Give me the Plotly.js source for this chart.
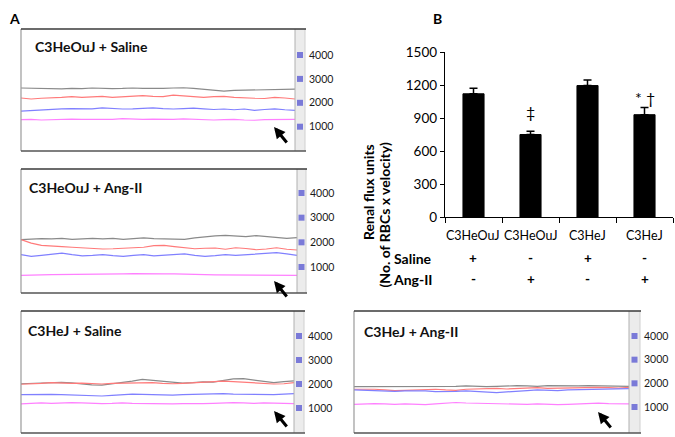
<!DOCTYPE html>
<html><head><meta charset="utf-8">
<script src="https://cdn.plot.ly/plotly-3.0.1.min.js"></script>
<style>html,body{margin:0;padding:0;background:#fff}#chart{width:675px;height:437px}</style>
</head><body><div id="chart"></div>
<script>
// ---------- DATA ----------
// Panel A1: C3HeOuJ + Saline
const a1Gray = [2620,2610,2590,2590,2580,2600,2590,2620,2600,2590,2600,2620,2600,2590,2600,2620,2630,2600,2570,2510,2490,2520,2530,2550,2530,2550,2570,2570];
const a1Red  = [2200,2160,2190,2200,2230,2260,2230,2250,2270,2230,2260,2290,2300,2270,2260,2320,2290,2250,2230,2260,2270,2230,2200,2190,2180,2230,2200,2160];
const a1Blue = [1650,1680,1710,1740,1750,1760,1740,1750,1790,1760,1740,1750,1780,1790,1760,1740,1760,1780,1750,1720,1740,1710,1740,1680,1720,1750,1710,1680];
const a1Pink = [1300,1310,1280,1300,1310,1320,1310,1300,1320,1310,1340,1320,1310,1320,1300,1310,1330,1310,1300,1280,1300,1310,1280,1270,1300,1310,1300,1310];
// Panel A2: C3HeOuJ + Ang-II
const a2Gray = [2110,2140,2150,2140,2160,2120,2150,2160,2140,2160,2120,2150,2180,2150,2140,2160,2120,2180,2230,2260,2280,2260,2230,2270,2230,2180,2160,2190];
const a2Red  = [2110,1970,1880,1840,1830,1800,1770,1760,1730,1740,1770,1790,1800,1870,1880,1830,1770,1740,1760,1770,1720,1780,1750,1700,1730,1780,1720,1690];
const a2Blue = [1500,1430,1470,1530,1560,1500,1450,1470,1500,1460,1430,1470,1500,1450,1470,1500,1530,1470,1430,1460,1500,1470,1500,1540,1570,1580,1530,1470];
const a2Pink = [660,680,680,690,690,700,690,700,720,700,720,730,720,700,720,720,700,690,690,680,680,690,680,660,680,690,680,660];
// Panel A3: C3HeJ + Saline
const a3Gray = [2010,2030,2040,2060,2070,2050,2000,1960,1950,2000,2060,2120,2190,2150,2090,2060,2040,2060,2090,2080,2150,2210,2220,2160,2100,2060,2100,2130];
const a3Red  = [1990,2000,2030,2060,2040,2030,2040,2010,2000,2030,2040,2060,2070,2060,2030,2010,2030,2060,2080,2110,2120,2100,2070,2040,2010,2000,2010,2060];
const a3Blue = [1560,1570,1560,1570,1560,1540,1530,1510,1500,1530,1560,1580,1570,1560,1530,1540,1560,1570,1580,1610,1600,1580,1570,1560,1540,1560,1580,1600];
const a3Pink = [1170,1190,1210,1190,1210,1220,1210,1190,1180,1190,1210,1190,1180,1170,1150,1170,1180,1170,1180,1190,1210,1220,1210,1190,1210,1190,1180,1180];
// Panel A4: C3HeJ + Ang-II
const a4Gray = [1860,1860,1870,1860,1850,1860,1870,1860,1850,1860,1870,1890,1870,1860,1870,1890,1900,1890,1870,1900,1890,1870,1890,1900,1900,1890,1870,1870];
const a4Red  = [1750,1760,1750,1720,1690,1700,1720,1730,1750,1720,1700,1750,1760,1780,1790,1760,1790,1800,1820,1790,1800,1820,1800,1820,1830,1820,1800,1830];
const a4Blue = [1720,1700,1690,1680,1660,1680,1690,1680,1650,1640,1660,1680,1650,1620,1610,1640,1680,1690,1720,1700,1690,1720,1730,1750,1760,1750,1760,1780];
const a4Pink = [1110,1130,1140,1130,1110,1130,1110,1100,1130,1160,1190,1170,1160,1140,1130,1110,1100,1110,1130,1110,1100,1110,1130,1140,1160,1140,1140,1130];
const traceTicks = [1000, 2000, 3000, 4000];
const panelTitles = ['C3HeOuJ + Saline', 'C3HeOuJ + Ang-II', 'C3HeJ + Saline', 'C3HeJ + Ang-II'];

// Panel B
const strains = ['C3HeOuJ', 'C3HeOuJ', 'C3HeJ', 'C3HeJ'];
const fluxMean = [1120, 750, 1195, 930];
const fluxErr = [50, 30, 50, 65];
const salineSigns = ['+', '-', '+', '-'];
const angSigns = ['-', '+', '-', '+'];
const sigMarks = ['', '‡', '', '* †'];
const sigLevel = [0, 960, 0, 1090];
const fluxTicks = [0, 300, 600, 900, 1200, 1500];

// ---------- LAYOUT ----------
const W = 675, H = 437;
const fx = p => p / W, fy = p => 1 - p / H;
const FONT = 'Lato, "Open Sans", sans-serif';

const series = [
  [a1Gray, a1Red, a1Blue, a1Pink],
  [a2Gray, a2Red, a2Blue, a2Pink],
  [a3Gray, a3Red, a3Blue, a3Pink],
  [a4Gray, a4Red, a4Blue, a4Pink]
];
const lineColors = ['#8a8a8a', '#ff7a7a', '#8080ff', '#ff80ff'];
// geometry (pixels): left, plot right, strip right, top, bottom, y of 1000 tick, y of 4000 tick
const geo = [
  {L:21, R:295, S:305, T:29, B:151, p1:126.7, p4:55, tx:33, ty:47, ar:[274,127]},
  {L:21, R:297, S:306, T:169, B:293, p1:267, p4:193, tx:27, ty:188, ar:[274,281]},
  {L:21, R:294, S:304, T:311, B:433, p1:408, p4:336, tx:26, ty:330, ar:[274,411]},
  {L:354, R:629, S:640, T:311, B:433, p1:407, p4:336, tx:362, ty:331, ar:[598,412]}
];

const data = [];
const layout = {
  width: W, height: H, margin: {l:0, r:0, t:0, b:0},
  paper_bgcolor: '#fff', plot_bgcolor: '#fff',
  showlegend: false, font: {family: FONT, color: '#000'},
  shapes: [], annotations: []
};

geo.forEach((g, i) => {
  const k = i + 1;
  const xa = 'x' + k, ya = 'y' + k;
  const n = series[i][0].length - 1;
  const xmax = n * (g.S - g.L) / (g.R - g.L);
  const s = (g.p1 - g.p4) / 3000;
  const ymax = 4000 + (g.p4 - g.T) / s;
  const ymin = 1000 - (g.B - g.p1) / s;
  series[i].forEach((arr, j) => {
    data.push({type: 'scatter', mode: 'lines', x: arr.map((_, q) => q), y: arr,
      xaxis: xa, yaxis: ya, line: {color: lineColors[j], width: 1.2}, hoverinfo: 'skip'});
  });
  const xm = n * ((g.R + g.S) / 2 - g.L) / (g.R - g.L);
  data.push({type: 'scatter', mode: 'markers', x: traceTicks.map(() => xm), y: traceTicks,
    xaxis: xa, yaxis: ya, marker: {symbol: 'square', size: 6, color: '#7a7ad8'}, hoverinfo: 'skip'});
  layout['xaxis' + (k === 1 ? '' : k)] = {domain: [fx(g.L), fx(g.S)], range: [0, xmax], visible: false, anchor: ya, fixedrange: true};
  layout['yaxis' + (k === 1 ? '' : k)] = {domain: [fy(g.B), fy(g.T)], range: [ymin, ymax], anchor: xa, side: 'right',
    tickvals: traceTicks, ticks: '', showgrid: false, zeroline: false, showline: false,
    tickfont: {size: 10.5, color: '#1a1a1a', family: FONT}, ticklabelstandoff: 3};
  // strip
  layout.shapes.push({type: 'rect', xref: 'paper', yref: 'paper', x0: fx(g.R), x1: fx(g.S), y0: fy(g.B), y1: fy(g.T),
    fillcolor: '#ececec', line: {width: 0}, layer: 'below'});
  layout.shapes.push({type: 'line', xref: 'paper', yref: 'paper', x0: fx(g.R), x1: fx(g.R), y0: fy(g.B), y1: fy(g.T), line: {color: '#b0b0b0', width: 1}});
  layout.shapes.push({type: 'line', xref: 'paper', yref: 'paper', x0: fx(g.S), x1: fx(g.S), y0: fy(g.B), y1: fy(g.T), line: {color: '#d0d0d0', width: 1}});
  // frame
  layout.shapes.push({type: 'line', xref: 'paper', yref: 'paper', x0: fx(g.L), x1: fx(g.L), y0: fy(g.B), y1: fy(g.T), line: {color: '#9a9a9a', width: 1.2}});
  layout.shapes.push({type: 'line', xref: 'paper', yref: 'paper', x0: fx(g.L), x1: fx(g.S + 1), y0: fy(g.T), y1: fy(g.T), line: {color: '#3a3a3a', width: 1.6}});
  layout.shapes.push({type: 'line', xref: 'paper', yref: 'paper', x0: fx(g.L), x1: fx(g.S + 1), y0: fy(g.B), y1: fy(g.B), line: {color: '#555', width: 1.6}});
  // title
  layout.annotations.push({xref: 'paper', yref: 'paper', x: fx(g.tx), y: fy(g.ty), xanchor: 'left', yanchor: 'middle',
    text: '<b>' + panelTitles[i] + '</b>', showarrow: false, font: {size: 14, family: FONT, color: '#111'}});
  // arrow
  layout.annotations.push({xref: 'paper', yref: 'paper', x: fx(g.ar[0]), y: fy(g.ar[1]), text: '', showarrow: true,
    ax: 14, ay: 17, arrowhead: 2, arrowsize: 0.75, arrowwidth: 3, arrowcolor: '#000', standoff: 0});
});

// Panel B
const bx = strains.map((_, q) => q);
data.push({type: 'bar', x: bx, y: fluxMean, xaxis: 'x5', yaxis: 'y5', width: 0.37,
  marker: {color: '#000', line: {color: '#000', width: 1}},
  error_y: {type: 'data', array: fluxErr, arrayminus: fluxErr.map(() => 0), symmetric: false, color: '#000', thickness: 1.5, width: 4},
  hoverinfo: 'skip'});
layout.xaxis5 = {domain: [fx(445), fx(673)], range: [-0.5, 3.5], anchor: 'y5', showline: true, linecolor: '#000', linewidth: 1.2,
  tickvals: [-0.5, 0.5, 1.5, 2.5, 3.5], ticks: 'outside', ticklen: 5, tickcolor: '#000', showticklabels: false,
  showgrid: false, zeroline: false, fixedrange: true};
layout.yaxis5 = {domain: [fy(217), fy(52)], range: [0, 1500], anchor: 'x5', showline: true, linecolor: '#000', linewidth: 1.2,
  tickvals: fluxTicks, ticks: 'outside', ticklen: 4, tickcolor: '#000', showgrid: false, zeroline: false,
  tickfont: {size: 13.5, family: FONT, color: '#000'}};

strains.forEach((s, q) => {
  layout.annotations.push({xref: 'x5', yref: 'paper', x: q, y: fy(235), text: s, showarrow: false, font: {size: 12.5, family: FONT}});
  layout.annotations.push({xref: 'x5', yref: 'paper', x: q, y: fy(258), text: '<b>' + salineSigns[q] + '</b>', showarrow: false, font: {size: 13.5, family: FONT}});
  layout.annotations.push({xref: 'x5', yref: 'paper', x: q, y: fy(279), text: '<b>' + angSigns[q] + '</b>', showarrow: false, font: {size: 13.5, family: FONT}});
  if (sigMarks[q]) layout.annotations.push({xref: 'x5', yref: 'y5', x: q, y: sigLevel[q], text: sigMarks[q], showarrow: false, font: {size: 16, family: FONT}});
});
layout.annotations.push({xref: 'paper', yref: 'paper', x: fx(434), y: fy(258), xanchor: 'right', text: '<b>Saline</b>', showarrow: false, font: {size: 14, family: FONT}});
layout.annotations.push({xref: 'paper', yref: 'paper', x: fx(435), y: fy(279), xanchor: 'right', text: '<b>Ang-II</b>', showarrow: false, font: {size: 14, family: FONT}});
layout.annotations.push({xref: 'paper', yref: 'paper', x: fx(368), y: fy(142), textangle: -90, text: '<b>Renal flux units</b>', showarrow: false, font: {size: 14, family: FONT}});
layout.annotations.push({xref: 'paper', yref: 'paper', x: fx(384), y: fy(141), textangle: -90, text: '<b>(No. of RBCs x velocity)</b>', showarrow: false, font: {size: 14, family: FONT}});
layout.annotations.push({xref: 'paper', yref: 'paper', x: fx(7), y: fy(8), text: '<b>A</b>', showarrow: false, font: {size: 14, family: FONT}});
layout.annotations.push({xref: 'paper', yref: 'paper', x: fx(437), y: fy(8), text: '<b>B</b>', showarrow: false, font: {size: 14, family: FONT}});

Plotly.newPlot('chart', data, layout, {staticPlot: true, displayModeBar: false});
</script>
</body></html>
